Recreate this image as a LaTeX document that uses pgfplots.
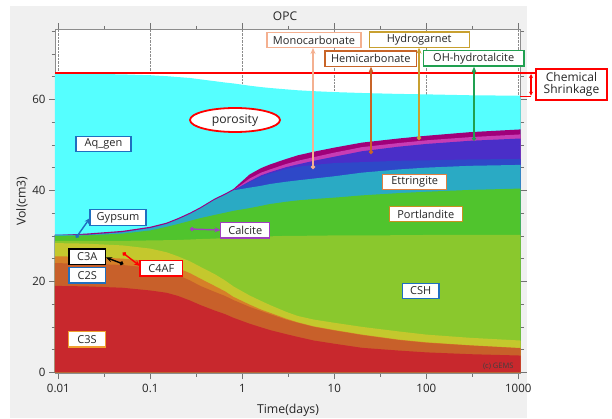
\documentclass[border=0pt]{standalone}
\usepackage{pgfplots}
\pgfplotsset{compat=1.18}
\usepackage{pgfplotstable}
\usepackage{fontspec}
\setmainfont{Open Sans}
\usetikzlibrary{arrows.meta,shapes.geometric}

\definecolor{cC3S}{RGB}{200,40,45}
\definecolor{cC2S}{RGB}{200,96,42}
\definecolor{cC3A}{RGB}{214,128,40}
\definecolor{cC4AF}{RGB}{196,200,45}
\definecolor{cCSH}{RGB}{138,200,45}
\definecolor{cPort}{RGB}{80,196,45}
\definecolor{cEtt}{RGB}{42,170,196}
\definecolor{cMono}{RGB}{46,72,200}
\definecolor{cHemi}{RGB}{74,46,200}
\definecolor{cPink}{RGB}{200,60,180}
\definecolor{cMag}{RGB}{160,0,122}
\definecolor{cAq}{RGB}{85,255,255}
\definecolor{panel}{RGB}{240,240,240}
\definecolor{bBlue}{RGB}{31,111,192}
\definecolor{bPurple}{RGB}{160,64,192}
\definecolor{bOrange}{RGB}{240,160,48}
\definecolor{bPort}{RGB}{200,144,32}
\definecolor{bEtt}{RGB}{224,128,64}
\definecolor{bMono}{RGB}{244,176,144}
\definecolor{bHemi}{RGB}{200,100,40}
\definecolor{bHydro}{RGB}{200,160,48}
\definecolor{bHtc}{RGB}{32,160,80}

% cumulative tops of the stacked layers (cm3)
\pgfplotstableread{
t      c3s  c2s  c3a  c4af csh   port ett  mono hemi pink mag  aq
0.0092 19.0 24.0 25.5 28.4 28.9  30.0 30.2 30.2 30.2 30.2 30.2 65.7
0.01   19.0 24.0 25.5 28.4 28.9  30.0 30.2 30.2 30.2 30.2 30.2 65.7
0.02   18.9 23.9 25.4 28.3 28.9  30.1 30.2 30.2 30.2 30.2 30.5 65.6
0.05   18.6 23.6 25.0 27.9 28.9  30.5 30.8 30.8 30.8 30.8 31.1 65.5
0.1    18.0 23.0 24.4 27.2 29.0  31.2 31.7 31.7 31.7 31.7 32.0 65.3
0.15   17.5 22.3 23.7 26.4 29.05 32.0 32.6 32.6 32.6 32.6 32.9 65.1
0.2    16.8 21.4 22.9 25.5 29.1  32.6 33.6 33.6 33.6 33.6 33.9 64.9
0.27   15.8 20.2 21.8 24.4 29.2  33.3 34.8 34.8 34.8 34.8 35.1 64.7
0.35   14.8 19.0 20.6 23.2 29.3  33.9 36.0 36.0 36.0 36.0 36.3 64.4
0.5    13.6 17.7 19.0 21.6 29.4  34.6 37.9 37.9 37.9 37.9 38.2 64.0
0.65   12.8 16.8 17.8 20.2 29.55 35.1 39.0 39.0 39.0 39.0 39.3 63.7
0.8    12.0 15.9 16.6 18.9 29.7  35.5 40.0 40.0 40.0 40.0 40.3 63.5
1.2    10.7 14.4 14.9 16.9 29.8  36.1 40.6 41.8 42.0 42.6 43.5 63.0
1.6    9.9  13.5 13.8 15.7 29.85 36.6 41.0 43.0 43.3 43.9 44.9 62.7
2      9.3  12.8 13.1 14.8 29.9  37.0 41.4 43.7 44.0 44.6 45.7 62.5
3      8.4  11.6 11.8 13.3 30.0  37.5 41.9 44.7 45.1 45.8 46.9 62.2
4      7.8  10.9 11.0 12.4 30.0  37.8 42.2 45.2 45.7 46.5 47.7 62.0
6      7.0  10.0 10.1 11.6 30.05 38.1 42.6 45.6 46.5 47.3 48.5 61.8
10     6.3  9.2  9.3  10.9 30.1  38.4 43.1 46.0 47.4 48.3 49.4 61.6
20     5.4  8.2  8.3  10.0 30.1  38.9 43.9 46.2 48.6 49.5 50.5 61.4
50     4.8  7.1  7.2  9.0  30.15 39.4 44.6 46.5 49.6 50.4 51.4 61.2
100    4.4  6.5  6.6  8.3  30.2  39.7 45.0 46.6 50.2 51.0 52.0 61.1
300    4.0  5.9  5.95 7.6  30.2  40.1 45.4 46.8 50.9 51.7 52.8 60.9
1062   3.7  5.3  5.35 7.0  30.2  40.4 45.6 46.9 51.4 52.3 53.4 60.8
}\data

\tikzset{
  lab/.style={draw, line width=1.2pt, fill=white, inner xsep=3pt, inner ysep=1pt,
    minimum height=15.5pt, font=\fontsize{11}{12}\selectfont, text=black!85},
  arr/.style={line width=1.4pt, {Circle[length=4pt]}-{Stealth[length=6pt,width=5pt]}}
}

\begin{document}
\begin{tikzpicture}[x=1pt,y=1pt]
\useasboundingbox (0,0) rectangle (612,418);
\fill[white] (0,0) rectangle (612,418);
\fill[panel] (10,0) rectangle (527,412);
\begin{axis}[
  at={(55pt,44.7pt)}, anchor=south west,
  scale only axis, width=465.7pt, height=344pt,
  xmode=log, xmin=0.0092, xmax=1062, ymin=-0.2, ymax=75.4,
  xtick={0.01,0.1,1,10,100,1000},
  xticklabels={0.01,0.1,1,10,100,1000},
  minor xtick={0.0316,0.316,3.16,31.6,316},
  ytick={0,20,40,60},
  minor ytick={5,10,15,25,30,35,45,50,55,65,70,75},
  tick align=outside, major tick length=6pt, minor tick length=3.5pt,
  xmajorgrids, major x grid style={black!45, densely dotted, thin},
  axis line style={black!45, line width=0.8pt},
  tick style={black!55, line width=0.7pt},
  every tick label/.append style={font=\fontsize{11.5}{13}\selectfont, text=black!85},
  xticklabel style={yshift=-1pt},
  /pgf/number format/assume math mode=true,
  axis background/.style={fill=white},
  no markers,
]
\addplot[draw=none, fill=cAq]   table[x=t,y=aq]   {\data} \closedcycle;
\addplot[draw=none, fill=cMag]  table[x=t,y=mag]  {\data} \closedcycle;
\addplot[draw=none, fill=cPink] table[x=t,y=pink] {\data} \closedcycle;
\addplot[draw=none, fill=cHemi] table[x=t,y=hemi] {\data} \closedcycle;
\addplot[draw=none, fill=cMono] table[x=t,y=mono] {\data} \closedcycle;
\addplot[draw=none, fill=cEtt]  table[x=t,y=ett]  {\data} \closedcycle;
\addplot[draw=none, fill=cPort] table[x=t,y=port] {\data} \closedcycle;
\addplot[draw=none, fill=cCSH]  table[x=t,y=csh]  {\data} \closedcycle;
\addplot[draw=none, fill=cC4AF] table[x=t,y=c4af] {\data} \closedcycle;
\addplot[draw=none, fill=cC3A]  table[x=t,y=c3a]  {\data} \closedcycle;
\addplot[draw=none, fill=cC2S]  table[x=t,y=c2s]  {\data} \closedcycle;
\addplot[draw=none, fill=cC3S]  table[x=t,y=c3s]  {\data} \closedcycle;
\end{axis}

% titles
\node[font=\fontsize{12}{14}\selectfont, text=black!85] at (285,401.5) {OPC};
\node[font=\fontsize{12.3}{14}\selectfont, text=black!85, rotate=90] at (22,217) {Vol(cm3)};
\node[font=\fontsize{12.3}{14}\selectfont, text=black!85] at (288,8) {Time(days)};
\node[font=\fontsize{7.5}{9}\selectfont, text=black!75, anchor=east] at (517,52) {(c) GEMS};

% chemical shrinkage
\draw[red, line width=1.8pt] (55,345) -- (536,345);
\draw[red, line width=1.2pt] (520,321.3) -- (531,321.3);
\draw[red, line width=1.2pt, {Stealth[length=4pt,width=4pt]}-{Stealth[length=4pt,width=4pt]}] (531,344) -- (531,322.3);
\node[draw=red, line width=1.4pt, fill=white, minimum width=71pt, minimum height=31pt, align=center,
  inner sep=1pt, font=\fontsize{12}{12.5}\selectfont, text=black!85] at (571.5,333.5) {Chemical\\Shrinkage};

% porosity
\node[draw=red, ellipse, line width=1.8pt, fill=white, minimum width=90pt, minimum height=24pt,
  inner sep=0pt, font=\fontsize{12.2}{14}\selectfont, text=black!85] at (235,298) {porosity};

% arrows
\draw[arr, color=bBlue] (76,180.3) -- (90,200);
\draw[arr, color=bPurple] (190,189) -- (220.5,188);
\draw[arr, color=black] (123.3,154) -- (106,160.5);
\draw[arr, color=red] (122.7,165.3) -- (140,152);
\draw[arr, color=bMono] (313,249) -- (313,370);
\draw[arr, color=bHemi] (371,264) -- (371,351.3);
\draw[arr, color=bHydro] (419,278) -- (419,370.3);
\draw[arr, color=bHtc] (474,277.3) -- (474,351.3);

% labels
\node[lab, draw=bBlue, minimum width=55pt] at (103.5,274) {Aq\_gen};
\node[lab, draw=bBlue, minimum width=56pt] at (118,200.5) {Gypsum};
\node[lab, draw=bPurple, minimum width=49pt] at (245.3,187.8) {Calcite};
\node[lab, draw=black, minimum width=36.5pt] at (87.3,161.3) {C3A};
\node[lab, draw=bBlue, minimum width=36.5pt] at (87.3,142.8) {C2S};
\node[lab, draw=red, minimum width=42.5pt] at (161.3,149.8) {C4AF};
\node[lab, draw=bOrange, minimum width=37pt] at (87,78.7) {C3S};
\node[lab, draw=bBlue, minimum width=36.5pt] at (420.7,127) {CSH};
\node[lab, draw=bPort, minimum width=73pt] at (425.8,204) {Portlandite};
\node[lab, draw=bEtt, minimum width=64pt] at (414.7,236) {Ettringite};
\node[lab, draw=bMono, minimum width=94pt] at (314,378) {Monocarbonate};
\node[lab, draw=bHemi, minimum width=91.5pt] at (370.8,359.3) {Hemicarbonate};
\node[lab, draw=bHydro, minimum width=100pt] at (419.2,378.3) {Hydrogarnet};
\node[lab, draw=bHtc, minimum width=100.5pt] at (473.7,359.7) {OH-hydrotalcite};
\end{tikzpicture}
\end{document}
